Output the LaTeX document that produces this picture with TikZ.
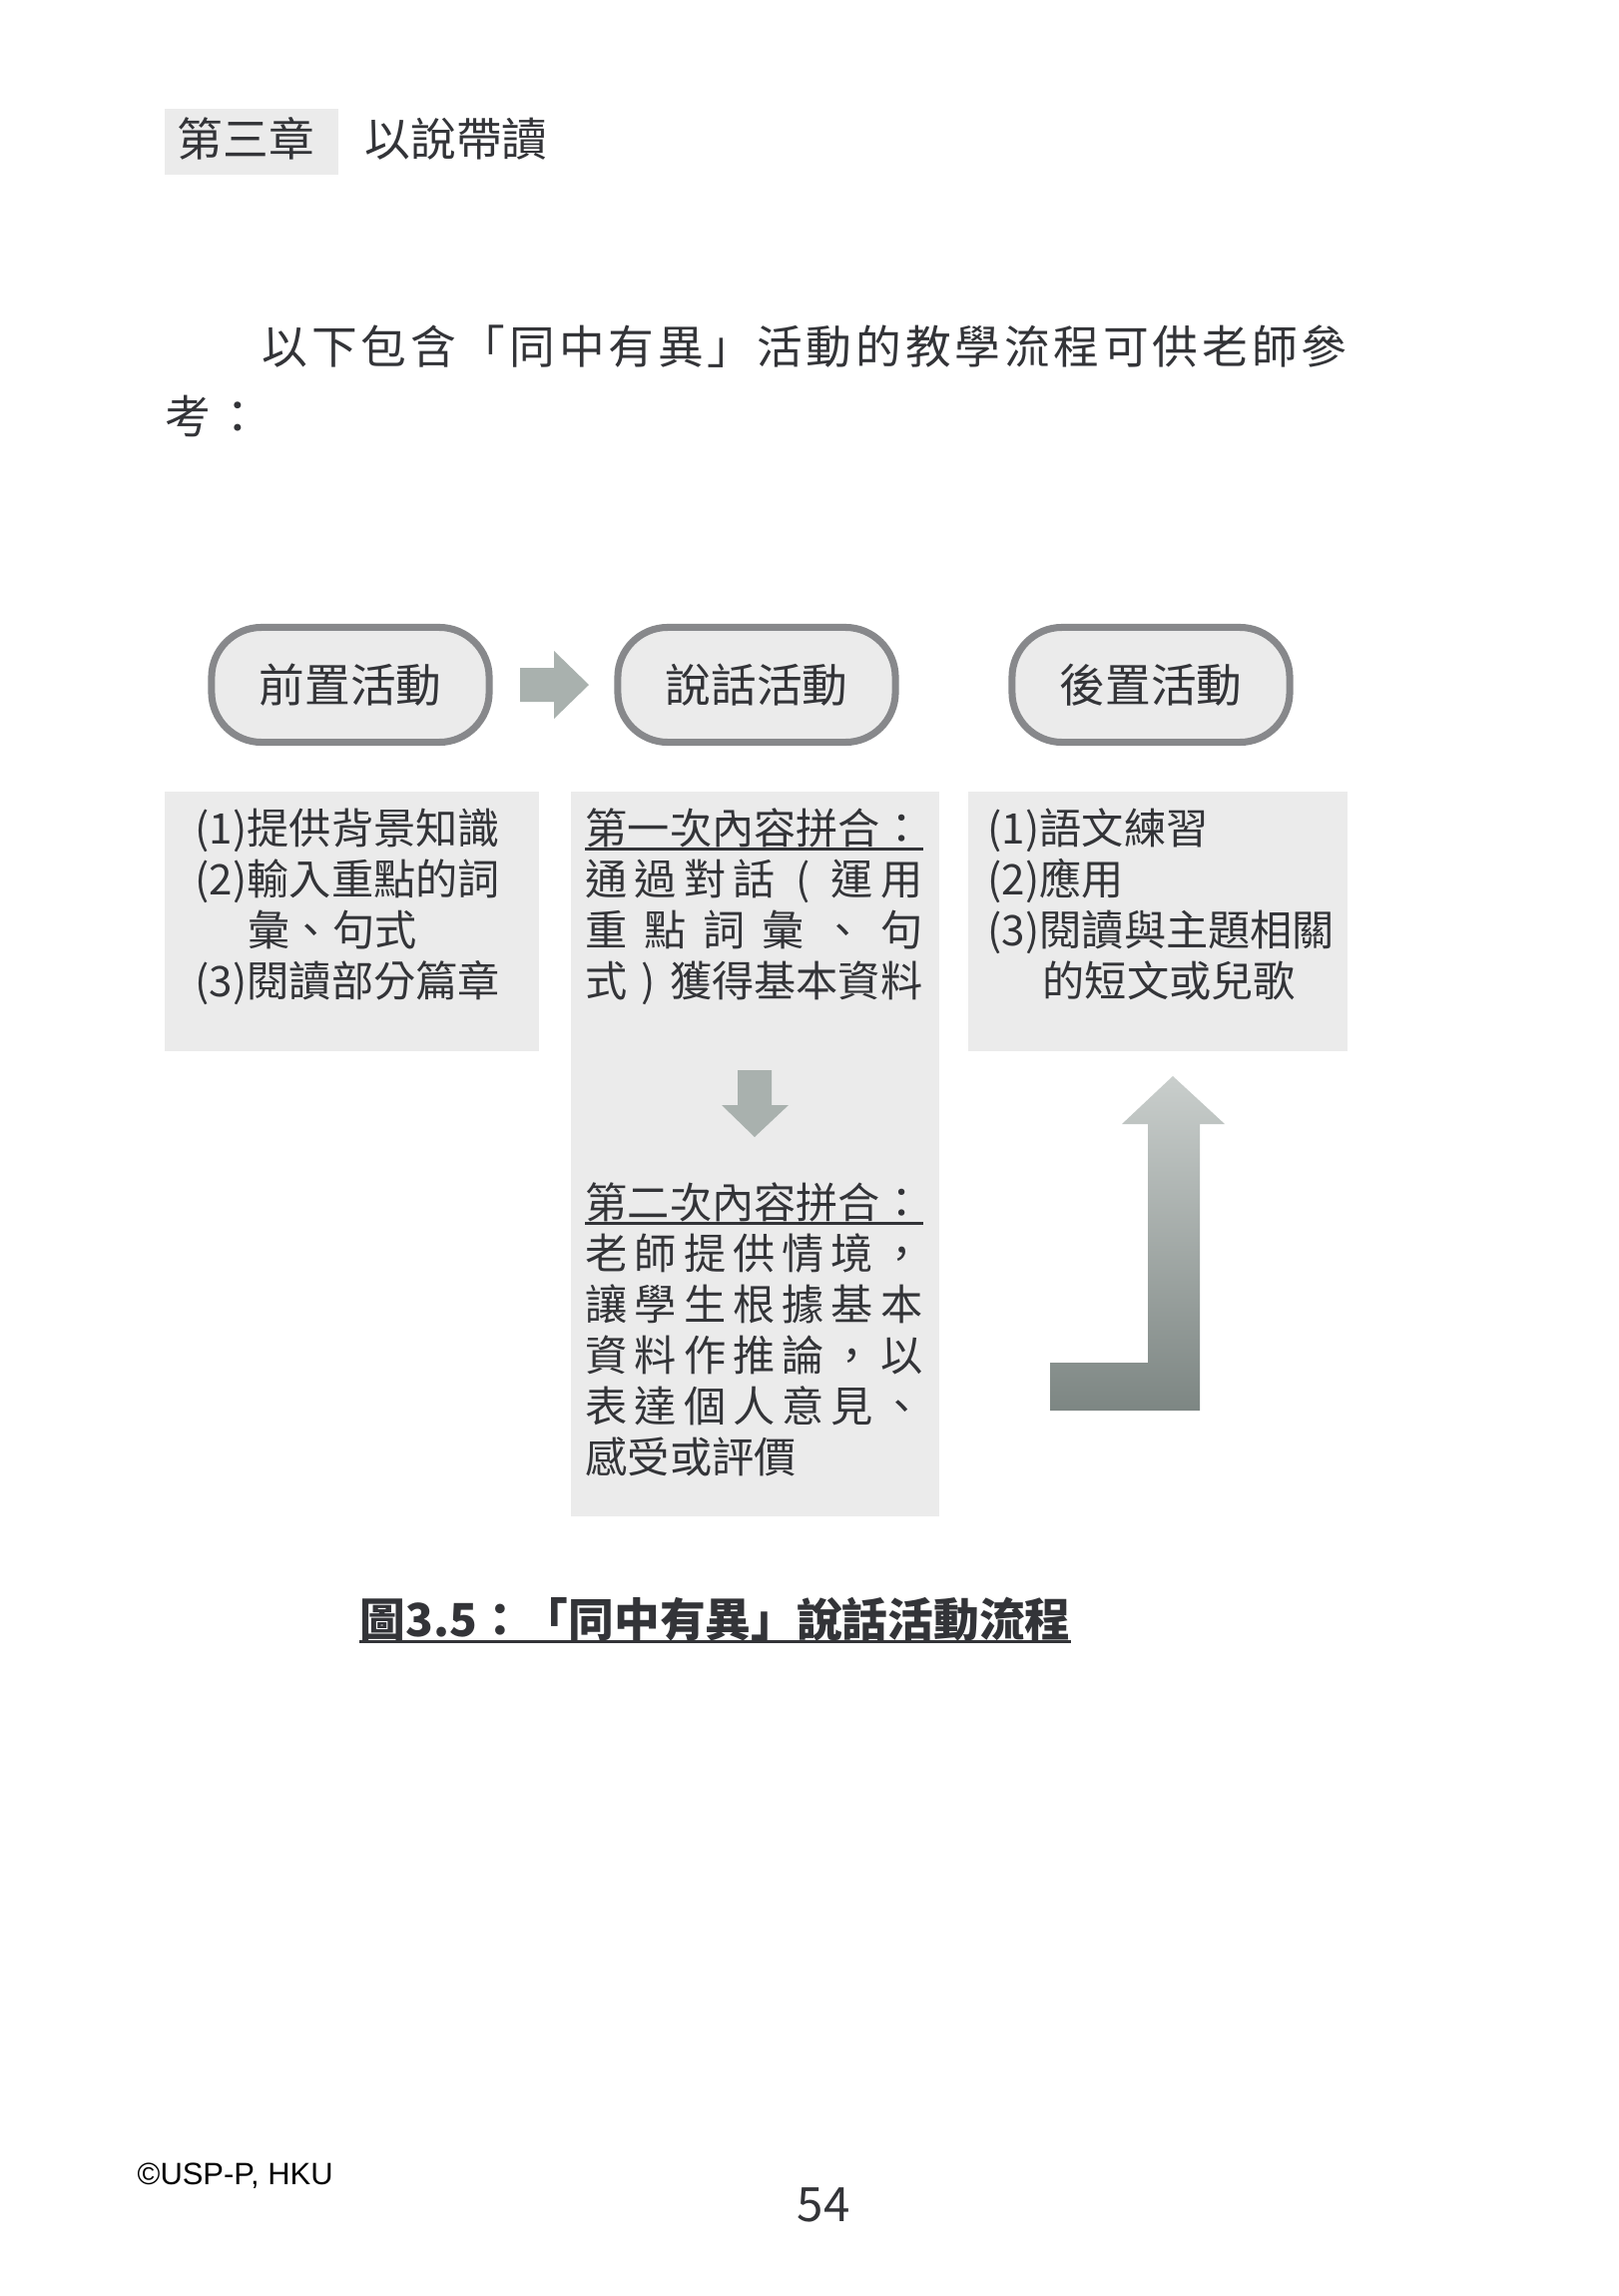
\documentclass[tikz,border=0pt]{standalone}
\usepackage{fontspec}
\setmainfont{Noto Sans CJK TC}
\newfontfamily\footfont{Liberation Sans}
\definecolor{inkgray}{HTML}{333438}
\definecolor{panelgray}{HTML}{EBEBEB}
\definecolor{framegray}{HTML}{87888B}
\definecolor{arrowgray}{HTML}{A9B1AE}
\definecolor{arrowtop}{HTML}{C9CECC}
\definecolor{arrowbot}{HTML}{7D8683}

\makeatletter
\newcommand\spreadtext[2]{\hbox to #1{\spread@next#2\spread@end}}
\def\spread@next#1#2\spread@end{#1\if\relax\detokenize{#2}\relax\else\hfill\spread@next#2\spread@end\fi}
\makeatother
\newcommand\openpar{\makebox[1em]{(}}
\newcommand\closepar{\makebox[1em]{)}}

\begin{document}
\begin{tikzpicture}[x=0.01cm, y=-0.01cm, line join=round,
    head/.style={inner sep=0pt, anchor=base west, text=inkgray, font=\fontsize{13}{15}\selectfont},
    txt/.style={inner sep=0pt, anchor=base west, text=inkgray, font=\fontsize{12}{14}\selectfont},
    stage/.style={draw=framegray, line width=2pt, fill=panelgray, rounded corners=0.5cm,
        minimum width=2.78cm, minimum height=1.15cm, inner sep=0pt, text=inkgray,
        font=\fontsize{13}{15}\selectfont},
    panel/.style={fill=panelgray},
    blockarrow/.style={fill=arrowgray},
    uline/.style={draw=inkgray, line width=0.8pt}]

                \fill[white] (0,0) rectangle (1621,2300);
                \useasboundingbox (0,0) rectangle (1621,2300);

                \fill[panel] (165,109) rectangle (339,175);
                \node[head] (chap) at (177,157) {第三章};
                \node[head] (title) at (365,157) {以說帶讀};

                \node[head] (intro) at (262,364) {\spreadtext{10.86cm}{以下包含「同中有異」活動的教學流程可供老師參}};
                \node[head] (introend) at (165,434) {\spreadtext{0.952cm}{考：}};

                \node[stage] (pre) at (351,686) {前置活動};
                \node[stage] (talk) at (758,686) {說話活動};
                \node[stage] (post) at (1153,686) {後置活動};

                \fill[blockarrow] (521,669) -- (555,669) -- (555,652) -- (590,686) -- (555,720) -- (555,703) -- (521,703) -- cycle;

                \fill[panel] (165,793) rectangle (540,1053);
                \fill[panel] (572,793) rectangle (941,1519);
                \fill[panel] (970,793) rectangle (1350,1053);

                \node[txt] (pre1) at (195,845) {(1)提供背景知識};
                \node[txt] (pre2) at (195,896) {(2)輸入重點的詞};
                \node[txt] (pre2b) at (248,947) {彙、句式};
                \node[txt] (pre3) at (195,998) {(3)閱讀部分篇章};

                \node[txt] (first) at (586,845) {\spreadtext{8em}{第一次內容拼合：}};
                \node[txt] (first1) at (586,896) {\spreadtext{8em}{通過對話\openpar 運用}};
                \node[txt] (first2) at (586,947) {\spreadtext{8em}{重點詞彙、句}};
                \node[txt] (first3) at (586,998) {\spreadtext{8em}{式\closepar 獲得基本資料}};
                \draw[uline] ([yshift=-1.5pt]first.base west) -- ([yshift=-1.5pt]first.base east);

                \fill[blockarrow] (739,1072) -- (773,1072) -- (773,1107) -- (790,1107) -- (756,1139) -- (723,1107) -- (739,1107) -- cycle;

                \node[txt] (second) at (586,1220) {\spreadtext{8em}{第二次內容拼合：}};
                \node[txt] (second1) at (586,1271) {\spreadtext{8em}{老師提供情境，}};
                \node[txt] (second2) at (586,1322) {\spreadtext{8em}{讓學生根據基本}};
                \node[txt] (second3) at (586,1373) {\spreadtext{8em}{資料作推論，以}};
                \node[txt] (second4) at (586,1424) {\spreadtext{8em}{表達個人意見、}};
                \node[txt] (second5) at (586,1475) {感受或評價};
                \draw[uline] ([yshift=-1.5pt]second.base west) -- ([yshift=-1.5pt]second.base east);

                \node[txt] (post1) at (989,845) {(1)語文練習};
                \node[txt] (post2) at (989,896) {(2)應用};
                \node[txt] (post3) at (989,947) {(3)閱讀與主題相關};
                \node[txt] (post3b) at (1044,998) {的短文或兒歌};

                \shade[top color=arrowtop, bottom color=arrowbot] (1175,1078) -- (1227,1126) -- (1202,1126) -- (1202,1413) -- (1052,1413) -- (1052,1365) -- (1150,1365) -- (1150,1126) -- (1124,1126) -- cycle;

                \node[head, font=\fontsize{13}{15}\selectfont\bfseries] (caption) at (360,1639) {圖3.5：「同中有異」說話活動流程};
                \draw[uline, line width=1pt] ([yshift=-1.5pt]caption.base west) -- ([yshift=-1.5pt]caption.base east);

                \node[inner sep=0pt, anchor=base west, text=black, font=\footfont\fontsize{8.8}{10}\selectfont] (copyright) at (137,2188) {©USP-P, HKU};
                \node[head, anchor=base, font=\fontsize{13.5}{15}\selectfont] (pagenum) at (825,2225) {54};

\end{tikzpicture}
\end{document}
